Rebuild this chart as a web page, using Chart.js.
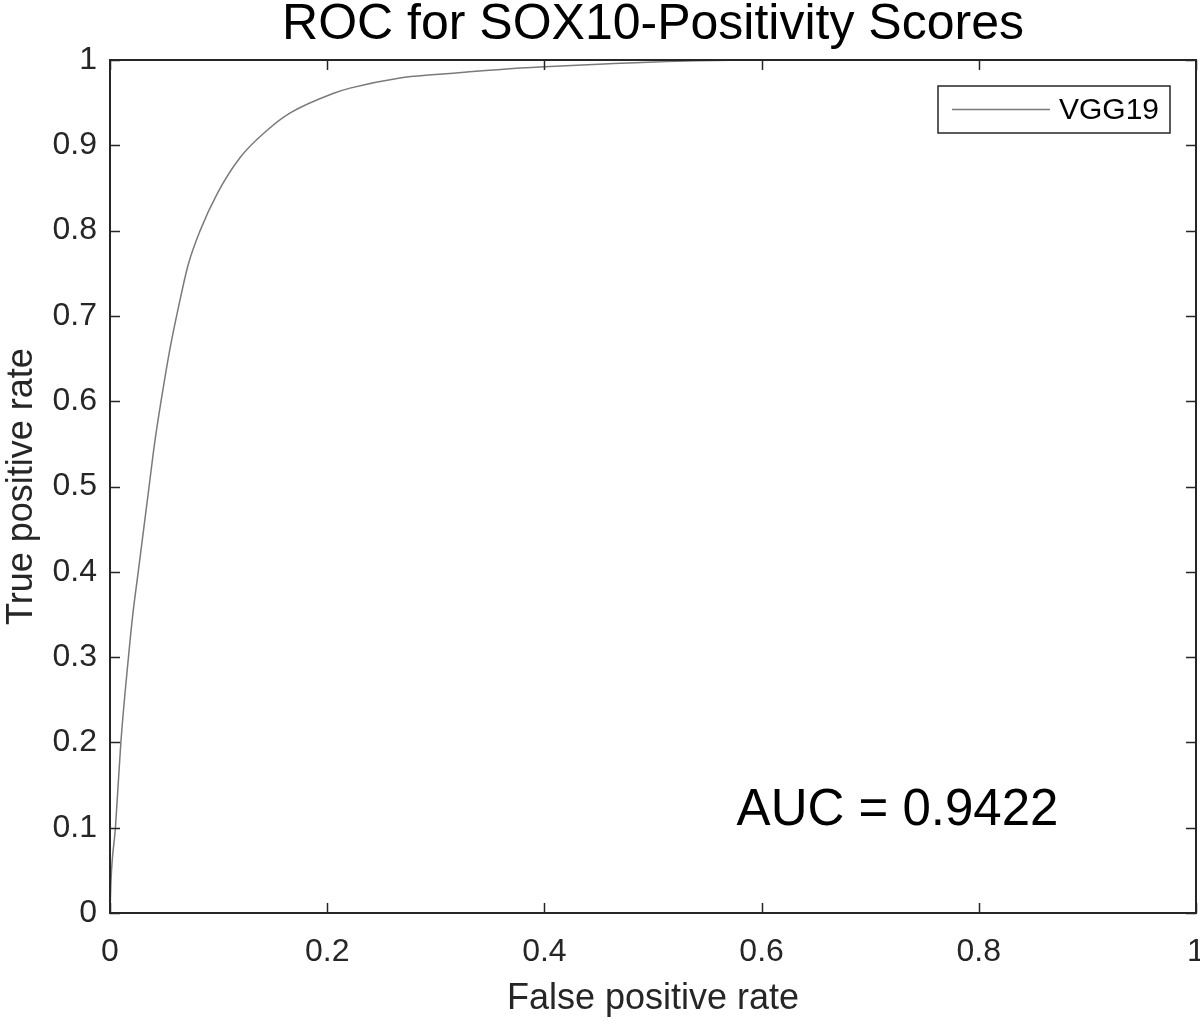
<!DOCTYPE html>
<html>
<head>
<meta charset="utf-8">
<title>ROC for SOX10-Positivity Scores</title>
<script src="https://cdn.jsdelivr.net/npm/chart.js@4.4.1/dist/chart.umd.min.js"></script>
<style>
  html, body { margin: 0; padding: 0; background: #fff; }
  canvas { display: block; }
</style>
</head>
<body>
<canvas id="rocChart" width="1200" height="1024"></canvas>
<script>
// ROC curve
const fprValues = [0, 0.001, 0.005, 0.010, 0.017, 0.021, 0.026, 0.031, 0.036, 0.041, 0.047,
  0.055, 0.063, 0.072, 0.083, 0.099, 0.120, 0.145, 0.166, 0.206, 0.221, 0.267, 0.300, 0.360,
  0.400, 0.450, 0.540, 0.600, 0.700, 0.800, 0.900, 1.000];
const tprValues = [0, 0.040, 0.100, 0.200, 0.300, 0.350, 0.400, 0.450, 0.500, 0.550, 0.600,
  0.660, 0.710, 0.760, 0.800, 0.844, 0.886, 0.918, 0.938, 0.961, 0.967, 0.979, 0.983, 0.989,
  0.992, 0.995, 0.999, 1.000, 1.000, 1.000, 1.000, 1.000];

const xTicks = [0, 0.2, 0.4, 0.6, 0.8, 1];
const yTicks = [0, 0.1, 0.2, 0.3, 0.4, 0.5, 0.6, 0.7, 0.8, 0.9, 1];

const seriesName = 'VGG19';
const aucLabel = 'AUC = 0.9422';
const aucAt = { x: 0.577, y: 0.103 };

const FONT = "'Liberation Sans', Arial, Helvetica, sans-serif";
const AXIS_COLOR = '#262626';
const LINE_COLOR = '#7a7a7a';

function fmtTick(v) {
  return String(+v.toFixed(1));
}

// box, inward ticks on all four sides, legend and AUC note
const matlabFrame = {
  id: 'matlabFrame',
  afterDatasetsDraw(chart) {
    const ctx = chart.ctx;
    const area = chart.chartArea;
    const xs = chart.scales.x;
    const ys = chart.scales.y;
    const tickLen = 10;

    ctx.save();
    ctx.strokeStyle = AXIS_COLOR;
    ctx.lineWidth = 2;
    ctx.strokeRect(area.left, area.top, area.right - area.left, area.bottom - area.top);

    ctx.lineWidth = 1.5;
    ctx.beginPath();
    xTicks.forEach(v => {
      const px = Math.round(xs.getPixelForValue(v)) + 0.5;
      ctx.moveTo(px, area.bottom); ctx.lineTo(px, area.bottom - tickLen);
      ctx.moveTo(px, area.top); ctx.lineTo(px, area.top + tickLen);
    });
    yTicks.forEach(v => {
      const py = Math.round(ys.getPixelForValue(v)) + 0.5;
      ctx.moveTo(area.left, py); ctx.lineTo(area.left + tickLen, py);
      ctx.moveTo(area.right, py); ctx.lineTo(area.right - tickLen, py);
    });
    ctx.stroke();

    // legend box (top right, inside the axes)
    const lw = 232, lh = 47;
    const lx = area.right - 26 - lw;
    const ly = area.top + 26;
    ctx.fillStyle = '#fff';
    ctx.fillRect(lx, ly, lw, lh);
    ctx.strokeStyle = AXIS_COLOR;
    ctx.lineWidth = 1.5;
    ctx.strokeRect(lx, ly, lw, lh);
    ctx.strokeStyle = LINE_COLOR;
    ctx.lineWidth = 1.5;
    ctx.beginPath();
    ctx.moveTo(lx + 14, ly + lh / 2);
    ctx.lineTo(lx + 112, ly + lh / 2);
    ctx.stroke();
    ctx.fillStyle = '#000';
    ctx.font = '30px ' + FONT;
    ctx.textBaseline = 'middle';
    ctx.textAlign = 'left';
    ctx.fillText(seriesName, lx + 121, ly + lh / 2 + 1);

    // AUC annotation
    ctx.font = '51px ' + FONT;
    ctx.textBaseline = 'alphabetic';
    ctx.fillText(aucLabel, xs.getPixelForValue(aucAt.x), ys.getPixelForValue(aucAt.y));
    ctx.restore();
  }
};

new Chart(document.getElementById('rocChart'), {
  type: 'scatter',
  data: {
    datasets: [{
      label: seriesName,
      data: fprValues.map((x, i) => ({ x: x, y: tprValues[i] })),
      showLine: true,
      borderColor: LINE_COLOR,
      borderWidth: 1.5,
      pointRadius: 0,
      cubicInterpolationMode: 'monotone'
    }]
  },
  options: {
    responsive: false,
    animation: false,
    layout: { padding: { left: 0, right: 4, top: 0, bottom: 0 } },
    plugins: {
      legend: { display: false },
      tooltip: { enabled: false },
      title: {
        display: true,
        fullSize: false, // centre over the axes, as MATLAB does
        text: 'ROC for SOX10-Positivity Scores',
        color: '#000',
        font: { family: FONT, size: 50, weight: 'normal', lineHeight: 1.0 },
        padding: { top: 0, bottom: 10 }
      }
    },
    scales: {
      x: {
        type: 'linear',
        min: 0, max: 1,
        afterBuildTicks: s => { s.ticks = xTicks.map(v => ({ value: v })); },
        afterFit: s => { s.height = 111; s.paddingLeft = 0; s.paddingRight = 0; },
        ticks: {
          callback: fmtTick,
          color: '#262626',
          font: { family: FONT, size: 32 },
          padding: 20,
          maxRotation: 0,
          autoSkip: false
        },
        grid: { display: false, drawTicks: false },
        border: { display: false },
        title: {
          display: true,
          text: 'False positive rate',
          color: '#262626',
          font: { family: FONT, size: 36, lineHeight: 1.2 },
          padding: { top: 0, bottom: 3 }
        }
      },
      y: {
        type: 'linear',
        min: 0, max: 1,
        afterBuildTicks: s => { s.ticks = yTicks.map(v => ({ value: v })); },
        afterFit: s => { s.width = 110; },
        ticks: {
          callback: fmtTick,
          color: '#262626',
          font: { family: FONT, size: 32 },
          padding: 13,
          autoSkip: false
        },
        grid: { display: false, drawTicks: false },
        border: { display: false },
        title: {
          display: true,
          text: 'True positive rate',
          color: '#262626',
          font: { family: FONT, size: 36, lineHeight: 1.2 },
          padding: { top: 0, bottom: 0 }
        }
      }
    }
  },
  plugins: [matlabFrame]
});
</script>
</body>
</html>
